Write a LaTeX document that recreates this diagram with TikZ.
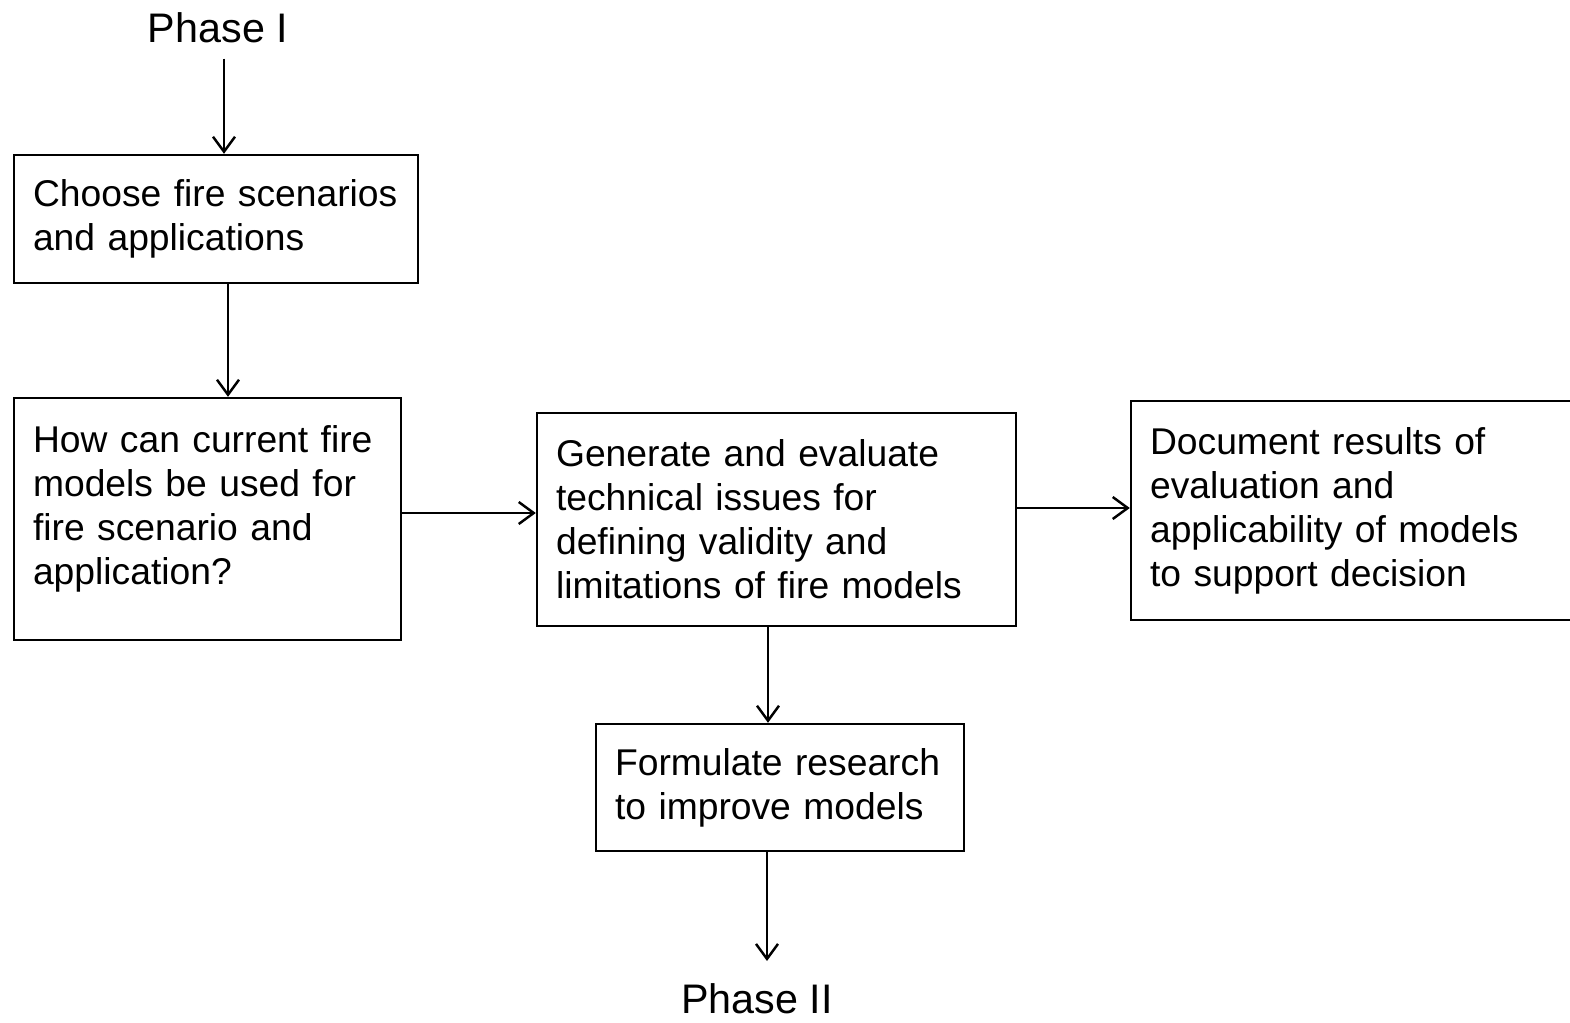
\documentclass[tikz,border=0pt]{standalone}
\usepackage{fontspec}
\setmainfont{Liberation Sans}
\usetikzlibrary{arrows.meta}
\begin{document}
\begin{tikzpicture}[x=0.02cm,y=-0.02cm,
  box/.style={draw, line width=1.4pt, rectangle, align=left, inner xsep=0.38cm, inner ysep=0pt,
    font=\fontsize{21.2}{25}\selectfont},
  boxtext/.style={align=left, inner sep=0pt, font=\fontsize{21.2}{25}\selectfont},
  phase/.style={font=\fontsize{23.5}{28}\selectfont, inner sep=0pt},
  arr/.style={line width=1.4pt, -{Straight Barb[length=0.3cm,width=0.44cm,line width=1.4pt]}}]
\clip (0,0) rectangle (1570,1022);
\fill[white] (0,0) rectangle (1570,1022);
\node[phase] (p1) at (218,28) {Phase I};
\node[box, minimum width=8.08cm, minimum height=2.56cm, text width=7.32cm] (b1) at (216,219)
  {Choose fire scenarios\\and applications};
\node[box, minimum width=7.74cm, minimum height=4.84cm] (b2) at (207.5,519) {};
\node[boxtext, text width=6.98cm] (b2t) at ([yshift=0.2cm]b2.center)
  {How can current fire\\models be used for\\fire scenario and\\application?};
\node[box, minimum width=9.58cm, minimum height=4.26cm, text width=8.82cm] (b3) at (776.5,519.5)
  {Generate and evaluate\\technical issues for\\defining validity and\\limitations of fire models};
\node[box, minimum width=8.98cm, minimum height=4.38cm, text width=8.22cm] (b4) at (1355.5,510.5)
  {Document results of\\evaluation and\\applicability of models\\to support decision};
\node[box, minimum width=7.36cm, minimum height=2.54cm, text width=6.6cm] (b5) at (780,787.5)
  {Formulate research\\to improve models};
\node[phase] (p2) at (757,999) {Phase II};
\draw[arr] ([xshift=0.12cm,yshift=-0.3cm]p1.south) -- ([xshift=0.12cm]p1.south |- b1.north);
\draw[arr] ([xshift=0.24cm]b1.south) -- ([xshift=0.24cm]b1.south |- b2.north);
\draw[arr] ([yshift=0.12cm]b2.east) -- ([yshift=0.12cm]b2.east -| b3.west);
\draw[arr] ([yshift=0.23cm]b3.east) -- ([yshift=0.23cm]b3.east -| b4.west);
\draw[arr] ([xshift=-0.17cm]b3.south) -- ([xshift=-0.17cm]b3.south |- b5.north);
\draw[arr] ([xshift=-0.26cm]b5.south) -- ([xshift=-0.26cm,yshift=0.45cm]b5.south |- p2.north);
\end{tikzpicture}
\end{document}
